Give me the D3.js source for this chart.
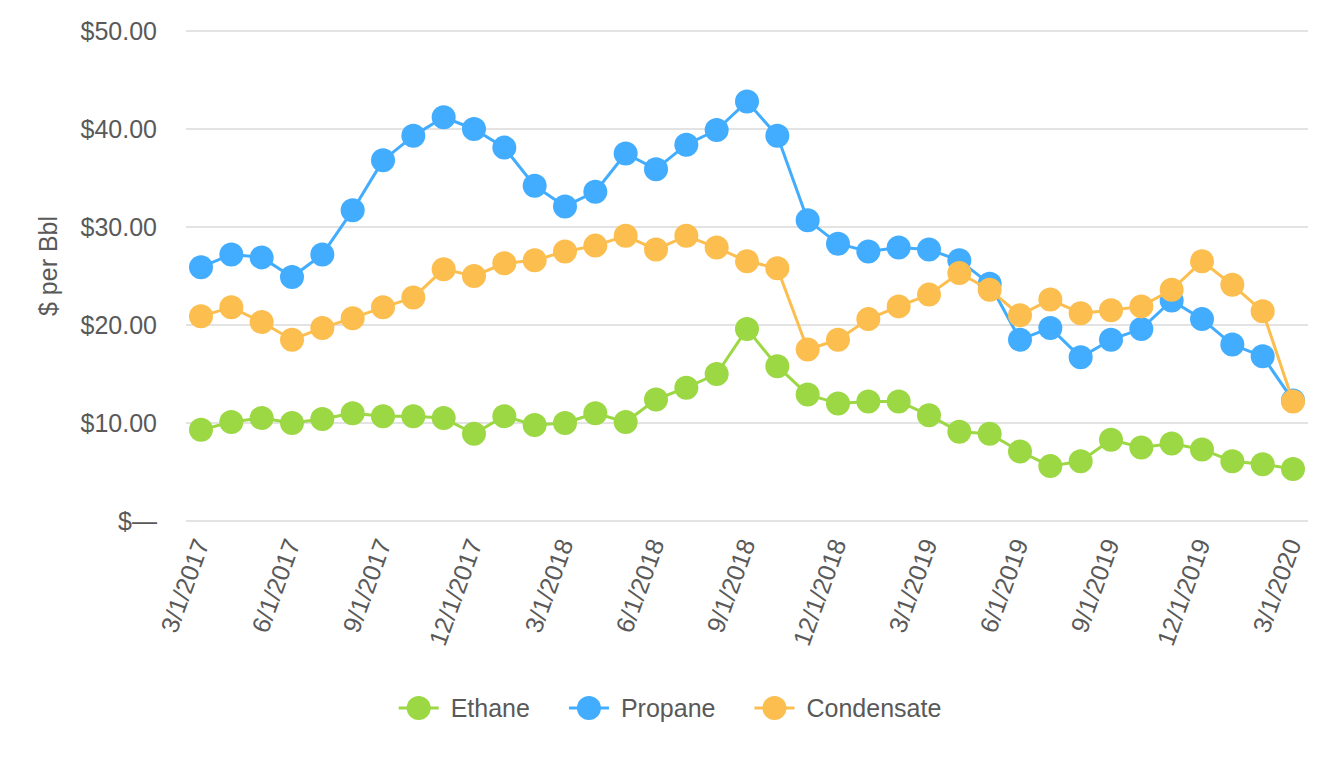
<!DOCTYPE html>
<html><head><meta charset="utf-8">
<script src="https://cdn.jsdelivr.net/npm/d3@7/dist/d3.min.js"></script>
<style>html,body{margin:0;padding:0;background:#fff;}svg{display:block;font-family:"Liberation Sans",Arial,sans-serif;}</style>
</head><body>
<svg id="chart" width="1340" height="760"></svg>
<script>
const dates = ["3/1/2017","4/1/2017","5/1/2017","6/1/2017","7/1/2017","8/1/2017","9/1/2017","10/1/2017","11/1/2017","12/1/2017","1/1/2018","2/1/2018","3/1/2018","4/1/2018","5/1/2018","6/1/2018","7/1/2018","8/1/2018","9/1/2018","10/1/2018","11/1/2018","12/1/2018","1/1/2019","2/1/2019","3/1/2019","4/1/2019","5/1/2019","6/1/2019","7/1/2019","8/1/2019","9/1/2019","10/1/2019","11/1/2019","12/1/2019","1/1/2020","2/1/2020","3/1/2020"];
const tickLabels = ["3/1/2017","6/1/2017","9/1/2017","12/1/2017","3/1/2018","6/1/2018","9/1/2018","12/1/2018","3/1/2019","6/1/2019","9/1/2019","12/1/2019","3/1/2020"];
const ethane = [9.3,10.1,10.5,10.0,10.4,11.0,10.7,10.7,10.5,8.9,10.7,9.8,10.0,11.0,10.1,12.4,13.6,15.0,19.6,15.8,12.9,12.0,12.2,12.2,10.8,9.1,8.9,7.1,5.6,6.1,8.3,7.5,7.9,7.3,6.1,5.8,5.3];
const propane = [25.9,27.2,26.9,24.9,27.2,31.7,36.8,39.3,41.2,40.0,38.1,34.2,32.1,33.6,37.5,35.9,38.4,39.9,42.8,39.3,30.7,28.3,27.5,27.9,27.7,26.6,24.2,18.5,19.7,16.7,18.5,19.6,22.5,20.6,18.0,16.8,12.3];
const condensate = [20.9,21.8,20.3,18.5,19.7,20.7,21.8,22.8,25.7,25.0,26.3,26.6,27.5,28.1,29.1,27.7,29.1,27.9,26.5,25.8,17.5,18.5,20.6,21.9,23.1,25.3,23.6,21.0,22.6,21.2,21.5,21.9,23.6,26.5,24.1,21.4,12.2];
const yTicks = [0,10,20,30,40,50];
const seriesNames = ["Ethane","Propane","Condensate"];
const seriesColors = ["#9bd843","#42adff","#fbbe4f"];
const seriesData = [ethane, propane, condensate];

const svg = d3.select("#chart");
const x = d3.scaleLinear().domain([0, dates.length-1]).range([201, 1293]);
const y = d3.scaleLinear().domain([0, 50]).range([521, 31]);
const textColor = "#595959";
const fontSize = "25px";

// gridlines
svg.append("g").selectAll("line").data(yTicks).join("line")
  .attr("x1", 186).attr("x2", 1308)
  .attr("y1", d => y(d)).attr("y2", d => y(d))
  .attr("stroke", "#e3e3e3").attr("stroke-width", 2);

// y axis labels
const yAxis = d3.axisLeft(y).tickValues(yTicks).tickSize(0).tickPadding(0)
  .tickFormat(d => d === 0 ? "$\u2014" : "$" + d.toFixed(2));
const yg = svg.append("g").attr("transform", "translate(157,0)").call(yAxis);
yg.select(".domain").remove();
yg.selectAll("text").attr("fill", textColor).style("font-size", fontSize).style("font-family", "'Liberation Sans',Arial,sans-serif");

// y title
svg.append("text").attr("transform", "translate(48,266) rotate(-90)")
  .attr("text-anchor", "middle").attr("dy", "0.35em")
  .attr("fill", textColor).style("font-size", fontSize).text("$ per Bbl");

// x axis labels
const idxOf = lbl => dates.indexOf(lbl);
const xAxis = d3.axisBottom(x).tickValues(tickLabels.map(idxOf)).tickSize(0).tickFormat(i => dates[i]);
const xg = svg.append("g").attr("transform", "translate(0,521)").call(xAxis);
xg.select(".domain").remove();
xg.selectAll("text")
  .attr("fill", textColor).style("font-size", fontSize).style("font-family", "'Liberation Sans',Arial,sans-serif")
  .attr("text-anchor", "end").attr("y", 0).attr("dy", "0.35em")
  .attr("transform", "translate(0,19) rotate(-70)");

// lines & points
const line = d3.line().x((d,i) => x(i)).y(d => y(d));
seriesData.forEach((data, s) => {
  const g = svg.append("g");
  g.append("path").datum(data).attr("d", line).attr("fill", "none")
    .attr("stroke", seriesColors[s]).attr("stroke-width", 3).attr("stroke-linejoin", "round");
  g.selectAll("circle").data(data).join("circle")
    .attr("cx", (d,i) => x(i)).attr("cy", d => y(d)).attr("r", 12)
    .attr("fill", seriesColors[s]);
});

// legend
const legend = svg.append("g");
let cx = 0;
seriesNames.forEach((name, s) => {
  const g = legend.append("g").attr("transform", `translate(${cx},0)`);
  g.append("line").attr("x1", 0).attr("x2", 40).attr("y1", 0).attr("y2", 0)
    .attr("stroke", seriesColors[s]).attr("stroke-width", 3);
  g.append("circle").attr("cx", 20).attr("cy", 0).attr("r", 12).attr("fill", seriesColors[s]);
  const t = g.append("text").attr("x", 52).attr("dy", "0.35em").attr("fill", textColor)
    .style("font-size", fontSize).text(name);
  const w = t.node().getComputedTextLength();
  cx += 52 + w + 39;
});
const totalW = cx - 39;
legend.attr("transform", `translate(${(1340 - totalW)/2},708)`);
</script>
</body></html>
